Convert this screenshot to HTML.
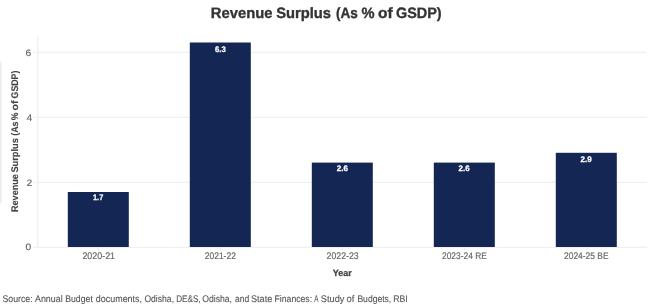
<!DOCTYPE html>
<html><head><meta charset="utf-8">
<style>
html,body{margin:0;padding:0;background:#fff;width:650px;height:305px;overflow:hidden}
svg{display:block;font-family:"Liberation Sans",sans-serif;text-rendering:geometricPrecision}
</style></head><body><div style="filter:blur(0)">
<svg width="650" height="305" viewBox="0 0 650 305">
<rect x="0" y="0" width="650" height="305" fill="#fff"/>
<defs><linearGradient id="lg" x1="0" x2="1" y1="0" y2="0"><stop offset="0" stop-color="#ebebeb"/><stop offset="0.5" stop-color="#f0f0f0"/><stop offset="1" stop-color="#fff"/></linearGradient><linearGradient id="vg" x1="0" x2="0" y1="0" y2="1"><stop offset="0" stop-color="#fff" stop-opacity="1"/><stop offset="0.025" stop-color="#fff" stop-opacity="0"/><stop offset="0.975" stop-color="#fff" stop-opacity="0"/><stop offset="1" stop-color="#fff" stop-opacity="1"/></linearGradient></defs>
<rect x="0" y="60" width="2.5" height="145" fill="url(#lg)"/><rect x="0" y="60" width="2.5" height="145" fill="url(#vg)"/>
<g stroke="#f0f0f0" stroke-width="1.3"><line x1="33" y1="52.3" x2="647" y2="52.3"/><line x1="33" y1="117.3" x2="647" y2="117.3"/><line x1="33" y1="182.3" x2="647" y2="182.3"/><line x1="33" y1="247.3" x2="647" y2="247.3"/><line x1="37.8" y1="36" x2="37.8" y2="247"/></g>
<g stroke="#e8e8e8" stroke-width="1"><line x1="98.3" y1="247" x2="98.3" y2="250.8"/><line x1="220.3" y1="247" x2="220.3" y2="250.8"/><line x1="342.3" y1="247" x2="342.3" y2="250.8"/><line x1="464.3" y1="247" x2="464.3" y2="250.8"/><line x1="586.3" y1="247" x2="586.3" y2="250.8"/></g>
<g fill="#142654"><rect x="67.8" y="192.0" width="61" height="55.00"/><rect x="189.8" y="42.5" width="61" height="204.50"/><rect x="311.8" y="162.6" width="61" height="84.40"/><rect x="433.8" y="162.6" width="61" height="84.40"/><rect x="555.8" y="152.8" width="61" height="94.20"/></g>
<text x="210.80" y="18.20" font-size="15" font-weight="bold" fill="#333" stroke="#333" stroke-width="0.35" textLength="61.61" lengthAdjust="spacingAndGlyphs">Revenue</text>
<text x="276.20" y="18.20" font-size="15" font-weight="bold" fill="#333" stroke="#333" stroke-width="0.35" textLength="54.82" lengthAdjust="spacingAndGlyphs">Surplus</text>
<text x="336.00" y="18.20" font-size="15" font-weight="bold" fill="#333" stroke="#333" stroke-width="0.35" textLength="21.86" lengthAdjust="spacingAndGlyphs">(As</text>
<text x="361.60" y="18.20" font-size="15" font-weight="bold" fill="#333" stroke="#333" stroke-width="0.35" textLength="13.04" lengthAdjust="spacingAndGlyphs">%</text>
<text x="378.00" y="18.20" font-size="15" font-weight="bold" fill="#333" stroke="#333" stroke-width="0.35" textLength="14.65" lengthAdjust="spacingAndGlyphs">of</text>
<text x="396.00" y="18.20" font-size="15" font-weight="bold" fill="#333" stroke="#333" stroke-width="0.35" textLength="45.65" lengthAdjust="spacingAndGlyphs">GSDP)</text>
<text x="25.60" y="56.00" font-size="9.3" font-weight="normal" fill="#666" stroke="#666" stroke-width="0.15" textLength="5.76" lengthAdjust="spacingAndGlyphs">6</text>
<text x="26.60" y="121.00" font-size="9.3" font-weight="normal" fill="#666" stroke="#666" stroke-width="0.15" textLength="5.76" lengthAdjust="spacingAndGlyphs">4</text>
<text x="26.60" y="185.50" font-size="9.3" font-weight="normal" fill="#666" stroke="#666" stroke-width="0.15" textLength="5.76" lengthAdjust="spacingAndGlyphs">2</text>
<text x="25.60" y="250.10" font-size="9.3" font-weight="normal" fill="#666" stroke="#666" stroke-width="0.15" textLength="5.67" lengthAdjust="spacingAndGlyphs">0</text>
<text x="82.40" y="258.90" font-size="9.5" font-weight="normal" fill="#666" stroke="#666" stroke-width="0.15" textLength="32.65" lengthAdjust="spacingAndGlyphs">2020-21</text>
<text x="204.80" y="258.90" font-size="9.5" font-weight="normal" fill="#666" stroke="#666" stroke-width="0.15" textLength="31.05" lengthAdjust="spacingAndGlyphs">2021-22</text>
<text x="326.60" y="258.90" font-size="9.5" font-weight="normal" fill="#666" stroke="#666" stroke-width="0.15" textLength="32.03" lengthAdjust="spacingAndGlyphs">2022-23</text>
<text x="442.00" y="258.90" font-size="9.5" font-weight="normal" fill="#666" stroke="#666" stroke-width="0.15" textLength="44.83" lengthAdjust="spacingAndGlyphs">2023-24 RE</text>
<text x="564.00" y="258.90" font-size="9.5" font-weight="normal" fill="#666" stroke="#666" stroke-width="0.15" textLength="44.61" lengthAdjust="spacingAndGlyphs">2024-25 BE</text>
<text x="93.00" y="200.30" font-size="8.1" font-weight="bold" fill="#fff" stroke="#fff" stroke-width="0.25" textLength="10.25" lengthAdjust="spacingAndGlyphs">1.7</text>
<text x="215.00" y="51.50" font-size="8.1" font-weight="bold" fill="#fff" stroke="#fff" stroke-width="0.25" textLength="10.83" lengthAdjust="spacingAndGlyphs">6.3</text>
<text x="336.80" y="171.10" font-size="8.1" font-weight="bold" fill="#fff" stroke="#fff" stroke-width="0.25" textLength="11.26" lengthAdjust="spacingAndGlyphs">2.6</text>
<text x="458.60" y="171.20" font-size="8.1" font-weight="bold" fill="#fff" stroke="#fff" stroke-width="0.25" textLength="11.05" lengthAdjust="spacingAndGlyphs">2.6</text>
<text x="580.60" y="161.80" font-size="8.1" font-weight="bold" fill="#fff" stroke="#fff" stroke-width="0.25" textLength="11.26" lengthAdjust="spacingAndGlyphs">2.9</text>
<text x="332.80" y="275.60" font-size="9.2" font-weight="bold" fill="#444" stroke="#444" stroke-width="0.25" textLength="19.00" lengthAdjust="spacingAndGlyphs">Year</text>
<text x="2.40" y="301.90" font-size="9.6" font-weight="normal" fill="#555" stroke="#555" stroke-width="0.1" textLength="30.30" lengthAdjust="spacingAndGlyphs">Source:</text>
<text x="35.00" y="301.90" font-size="9.6" font-weight="normal" fill="#555" stroke="#555" stroke-width="0.1" textLength="27.63" lengthAdjust="spacingAndGlyphs">Annual</text>
<text x="65.20" y="301.90" font-size="9.6" font-weight="normal" fill="#555" stroke="#555" stroke-width="0.1" textLength="27.63" lengthAdjust="spacingAndGlyphs">Budget</text>
<text x="95.80" y="301.90" font-size="9.6" font-weight="normal" fill="#555" stroke="#555" stroke-width="0.1" textLength="46.23" lengthAdjust="spacingAndGlyphs">documents,</text>
<text x="144.40" y="301.90" font-size="9.6" font-weight="normal" fill="#555" stroke="#555" stroke-width="0.1" textLength="29.66" lengthAdjust="spacingAndGlyphs">Odisha,</text>
<text x="176.20" y="301.90" font-size="9.6" font-weight="normal" fill="#555" stroke="#555" stroke-width="0.1" textLength="24.38" lengthAdjust="spacingAndGlyphs">DE&amp;S,</text>
<text x="202.20" y="301.90" font-size="9.6" font-weight="normal" fill="#555" stroke="#555" stroke-width="0.1" textLength="29.84" lengthAdjust="spacingAndGlyphs">Odisha,</text>
<text x="235.00" y="301.90" font-size="9.6" font-weight="normal" fill="#555" stroke="#555" stroke-width="0.1" textLength="14.23" lengthAdjust="spacingAndGlyphs">and</text>
<text x="251.00" y="301.90" font-size="9.6" font-weight="normal" fill="#555" stroke="#555" stroke-width="0.1" textLength="21.27" lengthAdjust="spacingAndGlyphs">State</text>
<text x="274.60" y="301.90" font-size="9.6" font-weight="normal" fill="#555" stroke="#555" stroke-width="0.1" textLength="37.44" lengthAdjust="spacingAndGlyphs">Finances:</text>
<text x="314.20" y="301.90" font-size="9.6" font-weight="normal" fill="#555" stroke="#555" stroke-width="0.1" textLength="4.17" lengthAdjust="spacingAndGlyphs">A</text>
<text x="320.80" y="301.90" font-size="9.6" font-weight="normal" fill="#555" stroke="#555" stroke-width="0.1" textLength="23.66" lengthAdjust="spacingAndGlyphs">Study</text>
<text x="346.60" y="301.90" font-size="9.6" font-weight="normal" fill="#555" stroke="#555" stroke-width="0.1" textLength="7.85" lengthAdjust="spacingAndGlyphs">of</text>
<text x="357.40" y="301.90" font-size="9.6" font-weight="normal" fill="#555" stroke="#555" stroke-width="0.1" textLength="33.87" lengthAdjust="spacingAndGlyphs">Budgets,</text>
<text x="393.20" y="301.90" font-size="9.6" font-weight="normal" fill="#555" stroke="#555" stroke-width="0.1" textLength="14.52" lengthAdjust="spacingAndGlyphs">RBI</text>
<text transform="translate(18.0,212.00) rotate(-90)" x="0" y="0" font-size="9.6" font-weight="bold" fill="#444" stroke="#444" stroke-width="0.12" textLength="37.81" lengthAdjust="spacingAndGlyphs">Revenue</text>
<text transform="translate(18.0,172.60) rotate(-90)" x="0" y="0" font-size="9.6" font-weight="bold" fill="#444" stroke="#444" stroke-width="0.12" textLength="34.45" lengthAdjust="spacingAndGlyphs">Surplus</text>
<text transform="translate(18.0,135.80) rotate(-90)" x="0" y="0" font-size="9.6" font-weight="bold" fill="#444" stroke="#444" stroke-width="0.12" textLength="14.34" lengthAdjust="spacingAndGlyphs">(As</text>
<text transform="translate(18.0,120.20) rotate(-90)" x="0" y="0" font-size="9.6" font-weight="bold" fill="#444" stroke="#444" stroke-width="0.12" textLength="7.71" lengthAdjust="spacingAndGlyphs">%</text>
<text transform="translate(18.0,110.60) rotate(-90)" x="0" y="0" font-size="9.6" font-weight="bold" fill="#444" stroke="#444" stroke-width="0.12" textLength="10.06" lengthAdjust="spacingAndGlyphs">of</text>
<text transform="translate(18.0,98.40) rotate(-90)" x="0" y="0" font-size="9.6" font-weight="bold" fill="#444" stroke="#444" stroke-width="0.12" textLength="27.81" lengthAdjust="spacingAndGlyphs">GSDP)</text>
</svg></div>
</body></html>
